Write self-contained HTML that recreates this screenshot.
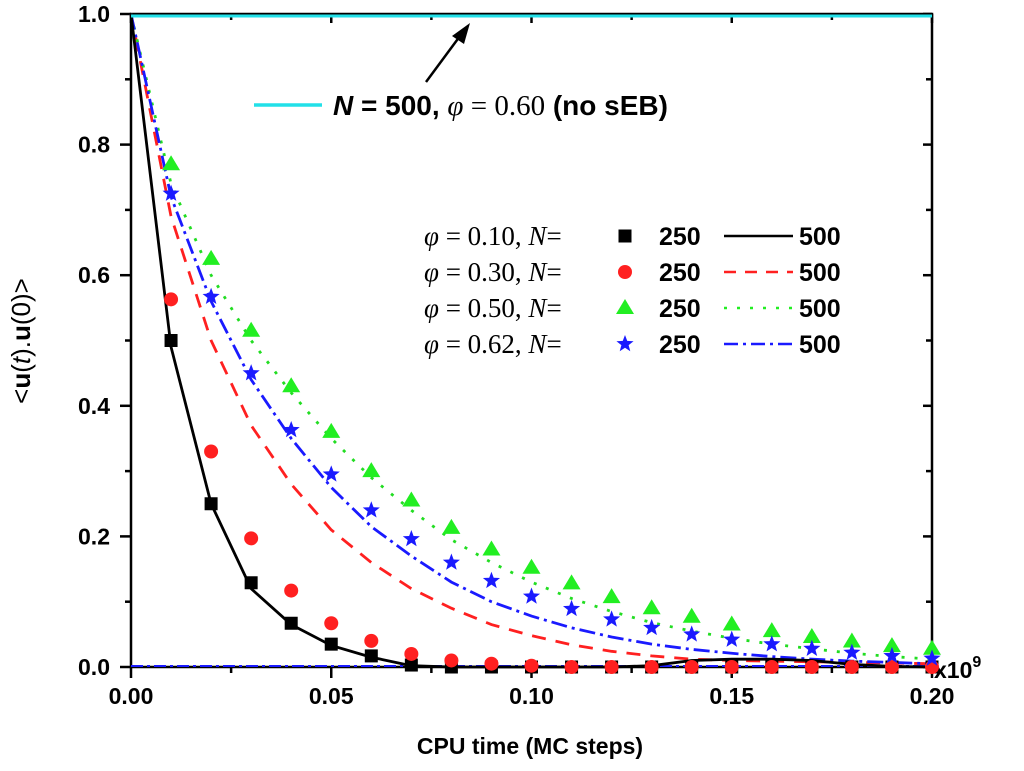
<!DOCTYPE html>
<html><head><meta charset="utf-8"><style>
body{margin:0;background:#fff;}
svg{display:block;font-family:"Liberation Sans",sans-serif;}
.t{font-weight:bold;font-size:23px;}
.s{font-family:"Liberation Serif",serif;font-size:29px;}
</style></head><body>
<svg id="c" width="1024" height="771"></svg>
<script>
const xs=[0,0.01,0.02,0.03,0.04,0.05,0.06,0.07,0.08,0.09,0.10,0.11,0.12,0.13,0.14,0.15,0.16,0.17,0.18,0.19,0.20];
const sq250=[null,0.50,0.25,0.129,0.067,0.035,0.017,0.003,0,0,0,0,0,0,0,0,0,0,0,0,0];
const line010=[1,0.49,0.25,0.12,0.065,0.033,0.015,0.002,0,0,0,0,0,0.002,0.01,0.012,0.012,0.01,0.004,0.001,0];
const circ250=[null,0.563,0.33,0.197,0.117,0.067,0.04,0.02,0.01,0.005,0.002,0,0,0,0,0,0,0,0,0,0];
const line030=[1,0.69,0.50,0.37,0.28,0.21,0.16,0.12,0.09,0.065,0.048,0.034,0.024,0.017,0.012,0.01,0.009,0.008,0.007,0.006,0.005];
const tri250=[null,0.77,0.625,0.515,0.43,0.36,0.30,0.255,0.213,0.18,0.152,0.128,0.107,0.09,0.077,0.065,0.055,0.046,0.039,0.032,0.028];
const line050=[1,0.74,0.60,0.50,0.42,0.35,0.29,0.24,0.195,0.16,0.13,0.105,0.085,0.068,0.055,0.044,0.035,0.028,0.021,0.016,0.012];
const star250=[null,0.725,0.567,0.45,0.363,0.295,0.24,0.196,0.16,0.132,0.108,0.089,0.073,0.06,0.05,0.042,0.035,0.028,0.022,0.017,0.013];
const line062=[1,0.72,0.56,0.44,0.35,0.275,0.215,0.17,0.13,0.10,0.078,0.06,0.046,0.035,0.027,0.021,0.016,0.012,0.009,0.007,0.005];
const noSEB=[0.997,0.997];
const xTicks=["0.00","0.05","0.10","0.15","0.20"];
const yTicks=["0.0","0.2","0.4","0.6","0.8","1.0"];
const X0=131,X1=932,Y0=667,Y1=14;
const sx=v=>X0+v/0.2*(X1-X0), sy=v=>Y0-v*(Y0-Y1);
const svg=document.getElementById('c');const NS='http://www.w3.org/2000/svg';
function el(t,a,p){const e=document.createElementNS(NS,t);for(const k in a)e.setAttribute(k,a[k]);(p||svg).appendChild(e);return e;}
function txt(x,y,s,cls,anchor){const e=el('text',{x:x,y:y,class:cls,'text-anchor':anchor||'start'});e.innerHTML=s;return e;}
let a=el('path',{d:`M${X0},${Y1}H${X1}V${Y0}H${X0}Z`,fill:'none',stroke:'#000','stroke-width':2.5});

for(let i=0;i<=8;i++){const x=sx(i*0.025),maj=i%2==0;
 el('line',{x1:x,x2:x,y1:Y0,y2:Y0+(maj?11:6),stroke:'#000','stroke-width':2.5});
 el('line',{x1:x,x2:x,y1:Y1,y2:Y1+(maj?9:6),stroke:'#000','stroke-width':2.5});}
xTicks.forEach((t,i)=>{const e=txt(sx(i*0.05),704,t,'t','middle');});
for(let i=0;i<=10;i++){const y=sy(i*0.1),maj=i%2==0;
 el('line',{x1:X0,x2:X0-(maj?11:6),y1:y,y2:y,stroke:'#000','stroke-width':2.5});
 el('line',{x1:X1,x2:X1-(maj?9:6),y1:y,y2:y,stroke:'#000','stroke-width':2.5});}
yTicks.forEach((t,i)=>{const e=txt(110,sy(i*0.2)+8,t,'t','end');});
let ex=txt(934,678,'x10<tspan font-size="16" dy="-11">9</tspan>','t');
let xt=txt(530,754,'CPU time (MC steps)','t','middle');
let yt=el('text',{transform:'translate(30,341) rotate(-90)','text-anchor':'middle',style:'font-size:26px'});
yt.innerHTML='&lt;<tspan font-weight="bold">u</tspan>(<tspan font-style="italic">t</tspan>).<tspan font-weight="bold">u</tspan>(0)&gt;';

function line(arr,color,dash,name){const pts=arr.map((v,i)=>sx(xs[i])+','+sy(v)).join(' ');
 const p=el('polyline',{points:pts,fill:'none',stroke:color,'stroke-width':2.8,'stroke-dasharray':dash});
 }
el('line',{x1:X0,x2:X1,y1:Y0-1,y2:Y0-1,stroke:'#1a1aff','stroke-width':2,'stroke-dasharray':'12 4 3 4'});
line(line030,'#ff2020','14 10','line-phi030-n500');
line(line050,'#22dd22','3 10','line-phi050-n500');
line(line062,'#1a1aff','16 5 3 5','line-phi062-n500');
line(line010,'#000','','line-phi010-n500');
let cy=el('line',{x1:sx(0),x2:sx(0.2),y1:sy(noSEB[0]),y2:sy(noSEB[1]),stroke:'#22e0e8','stroke-width':3});

function sq(x,y,c){return el('rect',{x:x-6.5,y:y-6.5,width:13,height:13,fill:c});}
function ci(x,y,c){return el('circle',{cx:x,cy:y,r:7,fill:c});}
function tr(x,y,c){return el('polygon',{points:`${x},${y-9} ${x+9},${y+6} ${x-9},${y+6}`,fill:c});}
function st(x,y,c){let p=[];for(let k=0;k<10;k++){const r=k%2?3.8:9,an=-Math.PI/2+k*Math.PI/5;p.push((x+r*Math.cos(an))+','+(y+r*Math.sin(an)));}return el('polygon',{points:p.join(' '),fill:c});}
function markers(arr,fn,c,name){arr.forEach((v,i)=>{if(v===null)return;const m=fn(sx(xs[i]),sy(v),c);
 });}
markers(sq250,sq,'#000','marker-phi010-n250');
markers(circ250,ci,'#ff2020','marker-phi030-n250');
markers(tri250,tr,'#22ee22','marker-phi050-n250');
markers(star250,st,'#1a1aff','marker-phi062-n250');
el('line',{x1:254,x2:322,y1:105,y2:105,stroke:'#22e0e8','stroke-width':3.5});
let an=txt(333,115,'<tspan font-style="italic">N</tspan> = 500, <tspan class="s" font-style="italic" font-weight="normal">φ</tspan><tspan class="s" font-weight="normal" font-size="26"> = 0.60</tspan> (no sEB)','t');
an.setAttribute('style','font-size:28px');

el('line',{x1:426,x2:460,y1:82,y2:36,stroke:'#000','stroke-width':2.5});
el('polygon',{points:'470,23 452,36 464,44',fill:'#000'});
const labs=['0.10','0.30','0.50','0.62'],cols=['#000','#ff2020','#22ee22','#1a1aff'],fns=[sq,ci,tr,st],dashes=['','12 9','3 10','14 5 3 5'];
labs.forEach((l,i)=>{const y=243+i*36;
 const g=el('g',{});
 const t=el('text',{x:424,y:y+2,class:'s','text-anchor':'start',style:'font-size:27px'},g);t.innerHTML='<tspan font-style="italic">φ</tspan> = '+l+', <tspan font-style="italic">N</tspan>=';
 fns[i](625,y-7,cols[i]);
 el('text',{x:659,y:y+2,class:'t',style:'font-size:25px'},g).textContent='250';
 el('line',{x1:724,x2:793,y1:y-7,y2:y-7,stroke:cols[i],'stroke-width':2.5,'stroke-dasharray':dashes[i]},g);
 el('text',{x:799,y:y+2,class:'t',style:'font-size:25px'},g).textContent='500';});
</script></body></html>
